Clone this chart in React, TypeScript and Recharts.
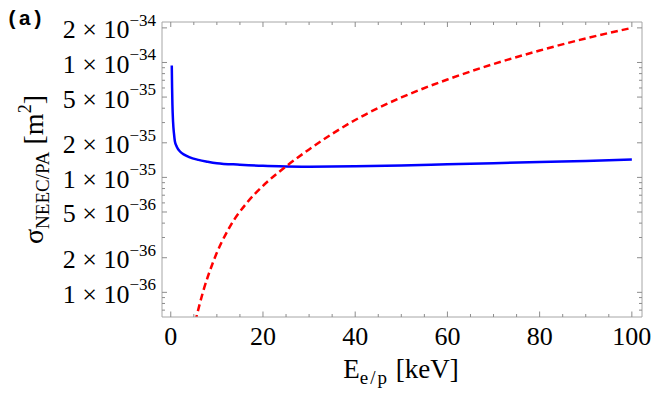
import React from 'react';
import { LineChart, Line, XAxis, YAxis } from 'recharts';

const blueX = [0.22, 0.29, 0.36, 0.5, 0.7, 0.9, 1.3, 2, 3, 4, 6, 8, 10, 15, 20, 25, 30, 40, 50, 60, 70, 80, 90, 100];
const blueY = [9.4e-35, 6.0e-35, 4.3e-35, 3.05e-35, 2.4e-35, 2.05e-35, 1.85e-35, 1.68e-35, 1.57e-35, 1.5e-35, 1.42e-35, 1.37e-35, 1.33e-35, 1.29e-35, 1.26e-35, 1.245e-35, 1.24e-35, 1.25e-35, 1.27e-35, 1.3e-35, 1.33e-35, 1.36e-35, 1.39e-35, 1.43e-35];

const redX = [5.3, 7, 9.2, 12.8, 16.5, 20, 25, 30, 35, 40, 45, 50, 60, 70, 80, 90, 100];
const redY = [5.53e-37, 1.01e-36, 1.84e-36, 3.71e-36, 6.0e-36, 8.44e-36, 1.246e-35, 1.752e-35, 2.39e-35, 3.16e-35, 4.02e-35, 4.96e-35, 7.11e-35, 9.7e-35, 1.27e-34, 1.62e-34, 2.0e-34];

const xTicks = [0, 5, 10, 15, 20, 25, 30, 35, 40, 45, 50, 55, 60, 65, 70, 75, 80, 85, 90, 95, 100];
const xMajor = [0, 20, 40, 60, 80, 100];

const yTicks = [
  7e-37, 8e-37, 9e-37,
  1e-36, 2e-36, 3e-36, 4e-36, 5e-36, 6e-36, 7e-36, 8e-36, 9e-36,
  1e-35, 2e-35, 3e-35, 4e-35, 5e-35, 6e-35, 7e-35, 8e-35, 9e-35,
  1e-34, 2e-34,
];
const yMajor = [1e-36, 2e-36, 5e-36, 1e-35, 2e-35, 5e-35, 1e-34, 2e-34];
const yMantissa = ['1', '2', '5', '1', '2', '5', '1', '2'];
const yExponent = ['\u221236', '\u221236', '\u221236', '\u221235', '\u221235', '\u221235', '\u221234', '\u221234'];

const blueData = blueX.map((x, i) => ({ x, y: blueY[i] }));
const redData = redX.map((x, i) => ({ x, y: redY[i] }));

const W = 664;
const H = 405;
const FONT = '"Liberation Serif", "Times New Roman", serif';
const FRAME = '#a6a6a6';
const TICK = '#8c8c8c';
const xDomain = [-1.9, 102.2];
const yDomain = [6.1e-37, 2.25e-34];

const majorIndex = (v: number) => yMajor.findIndex(t => Math.abs(v / t - 1) < 1e-6);

const BottomTick = ({ x, y, payload }: any) => {
  const major = xMajor.includes(payload.value);
  return (
    <g>
      <line x1={x} x2={x} y1={y} y2={y - (major ? 5.5 : 3)} stroke={TICK} />
      {major && (
        <text x={x} y={y + 28} textAnchor="middle" style={{ fontFamily: FONT }} fontSize={26} fill="#000">
          {payload.value}
        </text>
      )}
    </g>
  );
};

const TopTick = ({ x, y, payload }: any) => {
  const major = xMajor.includes(payload.value);
  return <line x1={x} x2={x} y1={y} y2={y + (major ? 5 : 3)} stroke={TICK} />;
};

const LeftTick = ({ x, y, payload }: any) => {
  const i = majorIndex(payload.value);
  return (
    <g>
      <line x1={x} x2={x + (i >= 0 ? 5 : 3)} y1={y} y2={y} stroke={TICK} />
      {i >= 0 && (
        <text x={x - 6} y={y + 10.5} textAnchor="end" style={{ fontFamily: FONT }} fontSize={26} fill="#000">
          <tspan>{yMantissa[i] + ' \u00d7 10'}</tspan>
          <tspan fontSize={17} dy={-12.5}>{yExponent[i]}</tspan>
        </text>
      )}
    </g>
  );
};

const RightTick = ({ x, y, payload }: any) => {
  const i = majorIndex(payload.value);
  return <line x1={x} x2={x - (i >= 0 ? 5 : 3)} y1={y} y2={y} stroke={TICK} />;
};

export default function App() {
  return (
    <div style={{ position: 'absolute', left: 0, top: 0, width: W, height: H, background: '#fff' }}>
      <LineChart width={W} height={H} margin={{ top: 0, right: 0, bottom: 0, left: 0 }}>
        <XAxis
          xAxisId="b"
          type="number"
          dataKey="x"
          orientation="bottom"
          domain={xDomain}
          ticks={xTicks}
          interval={0}
          allowDataOverflow
          height={88}
          tickSize={0}
          tickMargin={0}
          tickLine={false}
          axisLine={{ stroke: FRAME }}
          tick={(p: any) => <BottomTick {...p} />}
        />
        <XAxis
          xAxisId="t"
          type="number"
          dataKey="x"
          orientation="top"
          domain={xDomain}
          ticks={xTicks}
          interval={0}
          allowDataOverflow
          height={22}
          tickSize={0}
          tickMargin={0}
          tickLine={false}
          axisLine={{ stroke: FRAME }}
          tick={(p: any) => <TopTick {...p} />}
        />
        <YAxis
          yAxisId="l"
          type="number"
          scale="log"
          orientation="left"
          domain={yDomain}
          ticks={yTicks}
          interval={0}
          allowDataOverflow
          width={162}
          tickSize={0}
          tickMargin={0}
          tickLine={false}
          axisLine={{ stroke: FRAME }}
          tick={(p: any) => <LeftTick {...p} />}
        />
        <YAxis
          yAxisId="r"
          type="number"
          scale="log"
          orientation="right"
          domain={yDomain}
          ticks={yTicks}
          interval={0}
          allowDataOverflow
          width={22}
          tickSize={0}
          tickMargin={0}
          tickLine={false}
          axisLine={{ stroke: FRAME }}
          tick={(p: any) => <RightTick {...p} />}
        />
        <Line
          xAxisId="b"
          yAxisId="l"
          data={blueData}
          dataKey="y"
          type="monotone"
          stroke="#0000ff"
          strokeWidth={2.5}
          dot={false}
          isAnimationActive={false}
        />
        <Line
          xAxisId="b"
          yAxisId="l"
          data={redData}
          dataKey="y"
          type="monotone"
          stroke="#ff0000"
          strokeWidth={2.5}
          strokeDasharray="7 4"
          dot={false}
          isAnimationActive={false}
        />
      </LineChart>
      <svg width={W} height={H} style={{ position: 'absolute', left: 0, top: 0, pointerEvents: 'none' }}>
        <text x={6} y={25} style={{ fontFamily: '"Liberation Mono", monospace' }} fontWeight="bold" fontSize={21} fill="#000">
          (a)
        </text>
        <text x={401} y={378} textAnchor="middle" style={{ fontFamily: FONT }} fontSize={27} fill="#000">
          <tspan>E</tspan>
          <tspan fontSize={19} dy={6} letterSpacing={2}>e/p</tspan>
          <tspan dy={-6}>{' [keV]'}</tspan>
        </text>
        <text transform="translate(43,169.5) rotate(-90)" textAnchor="middle" style={{ fontFamily: FONT }} fontSize={28} fill="#000">
          <tspan>σ</tspan>
          <tspan fontSize={19} dy={6}>NEEC/PA</tspan>
          <tspan dy={-6}>{' [m'}</tspan>
          <tspan fontSize={18} dy={-12}>2</tspan>
          <tspan dy={12}>]</tspan>
        </text>
      </svg>
    </div>
  );
}
